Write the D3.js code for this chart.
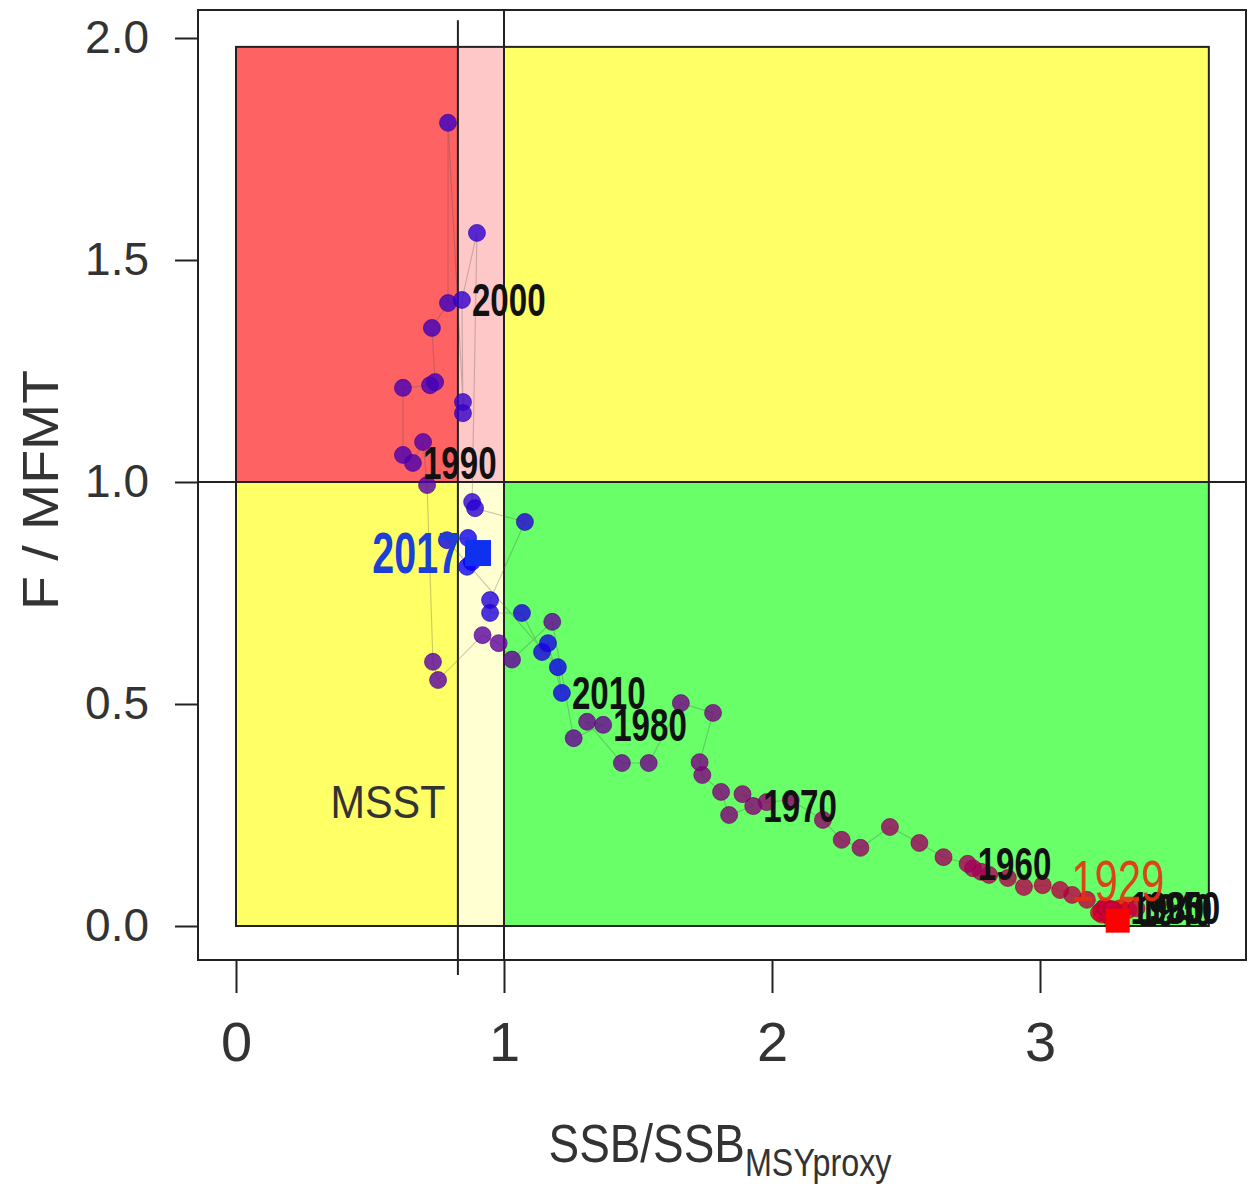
<!DOCTYPE html>
<html>
<head>
<meta charset="utf-8">
<script src="https://cdn.jsdelivr.net/npm/d3@7"></script>
<style>
  body { margin: 0; background: #fff; }
  svg { display: block; font-family: "Liberation Sans", Arial, sans-serif; }
</style>
</head>
<body>
<svg id="chart" width="1251" height="1184"></svg>
<script>
// 연도별 SSB/SSBmsy, F/MFMT
const years = [1929, 1930, 1931, 1932, 1933, 1934, 1935, 1936, 1937, 1938, 1939,
  1940, 1941, 1942, 1943, 1944, 1945, 1946, 1947, 1948, 1949,
  1950, 1951, 1952, 1953, 1954, 1955, 1956, 1957, 1958, 1959,
  1960, 1961, 1962, 1963, 1964, 1965, 1966, 1967, 1968, 1969,
  1970, 1971, 1972, 1973, 1974, 1975, 1976, 1977, 1978, 1979,
  1980, 1981, 1982, 1983, 1984, 1985, 1986, 1987, 1988, 1989,
  1990, 1991, 1992, 1993, 1994, 1995, 1996, 1997, 1998, 1999,
  2000, 2001, 2002, 2003, 2004, 2005, 2006, 2007, 2008, 2009,
  2010, 2011, 2012, 2013, 2014, 2015, 2016, 2017];
const ssbRatio = [3.29, 3.30, 3.28, 3.27, 3.26, 3.25, 3.27, 3.26, 3.24, 3.25, 3.27,
  3.33, 3.28, 3.26, 3.24, 3.23, 3.22, 3.23, 3.24, 3.25, 3.27,
  3.36, 3.175, 3.12, 3.075, 3.01, 2.94, 2.88, 2.81, 2.78, 2.75,
  2.73, 2.64, 2.55, 2.44, 2.33, 2.26, 2.19, 2.07, 1.98, 1.89,
  1.93, 1.84, 1.81, 1.74, 1.73, 1.78, 1.66, 1.54, 1.44, 1.31,
  1.37, 1.26, 1.18, 1.03, 0.98, 0.92, 0.754, 0.735, 0.713, 0.698,
  0.66, 0.623, 0.623, 0.724, 0.743, 0.731, 0.791, 0.791, 0.847, 0.847,
  0.843, 0.899, 0.881, 0.892, 1.078, 0.948, 0.948, 1.067, 1.142, 1.164,
  1.216, 1.201, 0.787, 0.866, 0.862, 0.880, 0.890, 0.903];
const fRatio = [0.012, 0.040, 0.022, 0.026, 0.020, 0.028, 0.032, 0.024, 0.030, 0.036, 0.030,
  0.036, 0.034, 0.038, 0.032, 0.026, 0.030, 0.036, 0.042, 0.040, 0.038,
  0.040, 0.059, 0.070, 0.081, 0.092, 0.088, 0.108, 0.115, 0.122, 0.130,
  0.140, 0.155, 0.187, 0.223, 0.176, 0.194, 0.239, 0.284, 0.279, 0.297,
  0.270, 0.250, 0.302, 0.340, 0.369, 0.480, 0.502, 0.367, 0.367, 0.460,
  0.453, 0.423, 0.685, 0.600, 0.637, 0.655, 0.554, 0.595, 0.993, 1.090,
  1.043, 1.061, 1.212, 1.218, 1.225, 1.347, 1.403, 1.809, 1.180, 1.155,
  1.410, 1.561, 0.955, 0.941, 0.910, 0.734, 0.705, 0.705, 0.617, 0.637,
  0.525, 0.583, 0.869, 0.874, 0.809, 0.820, 0.850, 0.840];

const labelYears = [1930, 1940, 1950, 1960, 1970, 1980, 1990, 2000, 2010];
const firstYear = 1929;
const lastYear = 2017;

const xTicks = [0, 1, 2, 3];
const yTicks = [0, 0.5, 1, 1.5, 2];

// 기준점
const msst = 0.828;   // MSST (SSB 비율)
const xZoneMax = 3.63;
const yZoneMax = 1.98;

const ZONE = {
  red: "#ff6262",
  pink: "#ffc8c8",
  yellow: "#ffff66",
  cream: "#ffffd2",
  green: "#68ff68",
};

const svg = d3.select("#chart");
const box = { left: 198, right: 1246, top: 10, bottom: 960 };

const x = d3.scaleLinear().domain([0, 3]).range([236, 1040]);
const y = d3.scaleLinear().domain([0, 2]).range([926, 38]);

const data = years.map((yr, i) => ({ year: yr, ssb: ssbRatio[i], f: fRatio[i] }));
const color = d3.scaleLinear().domain([firstYear, lastYear]).range(["red", "blue"]);

// 글자 헬퍼 (가로 비율 조절 가능)
function addText(px, py, str, o) {
  const g = svg.append("g")
    .attr("transform", `translate(${px},${py}) scale(${o.sx || 1},1)`);
  const t = g.append("text")
    .attr("text-anchor", o.anchor || "start")
    .attr("dominant-baseline", o.baseline || "auto")
    .attr("font-size", o.size)
    .attr("font-weight", o.weight || "normal")
    .attr("fill", o.fill || "#111")
    .attr("fill-opacity", o.opacity || 1)
    .attr("transform", o.rotate ? `rotate(${o.rotate})` : null)
    .text(str);
  return t;
}

// 바깥 상자
svg.append("rect")
  .attr("x", box.left).attr("y", box.top)
  .attr("width", box.right - box.left).attr("height", box.bottom - box.top)
  .attr("fill", "#fff").attr("stroke", "#222").attr("stroke-width", 2);

// 영역 색칠
const zones = [
  { x0: 0, x1: msst, y0: 1, y1: yZoneMax, c: ZONE.red },
  { x0: msst, x1: 1, y0: 1, y1: yZoneMax, c: ZONE.pink },
  { x0: 1, x1: xZoneMax, y0: 1, y1: yZoneMax, c: ZONE.yellow },
  { x0: 0, x1: msst, y0: 0, y1: 1, c: ZONE.yellow },
  { x0: msst, x1: 1, y0: 0, y1: 1, c: ZONE.cream },
  { x0: 1, x1: xZoneMax, y0: 0, y1: 1, c: ZONE.green },
];
svg.append("g").selectAll("rect").data(zones).join("rect")
  .attr("x", d => x(d.x0)).attr("y", d => y(d.y1))
  .attr("width", d => x(d.x1) - x(d.x0)).attr("height", d => y(d.y0) - y(d.y1))
  .attr("fill", d => d.c);
svg.append("rect")
  .attr("x", x(0)).attr("y", y(yZoneMax))
  .attr("width", x(xZoneMax) - x(0)).attr("height", y(0) - y(yZoneMax))
  .attr("fill", "none").attr("stroke", "#222").attr("stroke-width", 2);

// 기준선
svg.append("line")
  .attr("x1", box.left).attr("x2", box.right)
  .attr("y1", y(1)).attr("y2", y(1))
  .attr("stroke", "#222").attr("stroke-width", 2);
svg.append("line")
  .attr("x1", x(1)).attr("x2", x(1))
  .attr("y1", box.top).attr("y2", box.bottom)
  .attr("stroke", "#222").attr("stroke-width", 2);
svg.append("line")
  .attr("x1", x(msst)).attr("x2", x(msst))
  .attr("y1", y(2.04)).attr("y2", box.bottom + 15)
  .attr("stroke", "#222").attr("stroke-width", 2);

// 축
const yAxis = svg.append("g")
  .attr("transform", `translate(${box.left},0)`)
  .call(d3.axisLeft(y).tickValues(yTicks).tickFormat(d3.format(".1f"))
    .tickSize(23).tickPadding(26));
const xAxis = svg.append("g")
  .attr("transform", `translate(0,${box.bottom})`)
  .call(d3.axisBottom(x).tickValues(xTicks).tickFormat(d3.format("d"))
    .tickSize(33).tickPadding(28));
[yAxis, xAxis].forEach(a => {
  a.select(".domain").remove();
  a.selectAll(".tick line").attr("stroke", "#222").attr("stroke-width", 2);
  a.selectAll(".tick text").attr("fill", "#333")
    .attr("font-family", "'Liberation Sans', Arial, sans-serif");
});
yAxis.selectAll(".tick text").attr("font-size", 46);
xAxis.selectAll(".tick text").attr("font-size", 56);

// 궤적 선
const line = d3.line().x(d => x(d.ssb)).y(d => y(d.f));
svg.append("path")
  .datum(data)
  .attr("d", line)
  .attr("fill", "none")
  .attr("stroke", "rgba(80,80,80,0.3)")
  .attr("stroke-width", 1.1);

// 점
svg.append("g").selectAll("circle").data(data).join("circle")
  .attr("cx", d => x(d.ssb)).attr("cy", d => y(d.f))
  .attr("r", 8.5)
  .attr("fill", d => color(d.year))
  .attr("fill-opacity", 0.8)
  .attr("stroke", d => d3.color(color(d.year)).darker(0.6))
  .attr("stroke-opacity", 0.6)
  .attr("stroke-width", 1);

// 첫해, 마지막 해 사각형
const first = data[0];
const last = data[data.length - 1];
[{ d: first, c: "#ff0000", s: 24 }, { d: last, c: "#1030f0", s: 26 }].forEach(m => {
  svg.append("rect")
    .attr("x", x(m.d.ssb) - m.s / 2).attr("y", y(m.d.f) - m.s / 2)
    .attr("width", m.s).attr("height", m.s)
    .attr("fill", m.c);
});

// 10년 단위 라벨
data.filter(d => labelYears.includes(d.year)).forEach(d => {
  addText(x(d.ssb) + 10, y(d.f), d.year, {
    size: 46, sx: 0.72, baseline: "central", fill: "#111", weight: "bold",
  });
});
addText(x(first.ssb), y(first.f) - 40, first.year, {
  size: 58, sx: 0.72, anchor: "middle", baseline: "central", fill: "#e8300f", opacity: 0.9,
});
addText(x(last.ssb) - 18, y(last.f), last.year, {
  size: 58, sx: 0.68, anchor: "end", baseline: "central", fill: "#1c3fd6", weight: "bold",
});

// MSST 글자
addText(388, 818, "MSST", { size: 46, sx: 0.9, anchor: "middle", fill: "#333" });

// 축 제목
const xt = svg.append("g").attr("transform", "translate(720,1162) scale(0.85,1)")
  .append("text")
  .attr("text-anchor", "middle")
  .attr("font-size", 54)
  .attr("fill", "#333");
xt.append("tspan").text("SSB/SSB");
xt.append("tspan").attr("font-size", 38).attr("dy", 14).text("MSYproxy");

addText(58, 490, "F / MFMT", {
  size: 50, sx: 1, anchor: "middle", fill: "#333", rotate: -90,
}).attr("textLength", 240).attr("lengthAdjust", "spacingAndGlyphs");
</script>
</body>
</html>
